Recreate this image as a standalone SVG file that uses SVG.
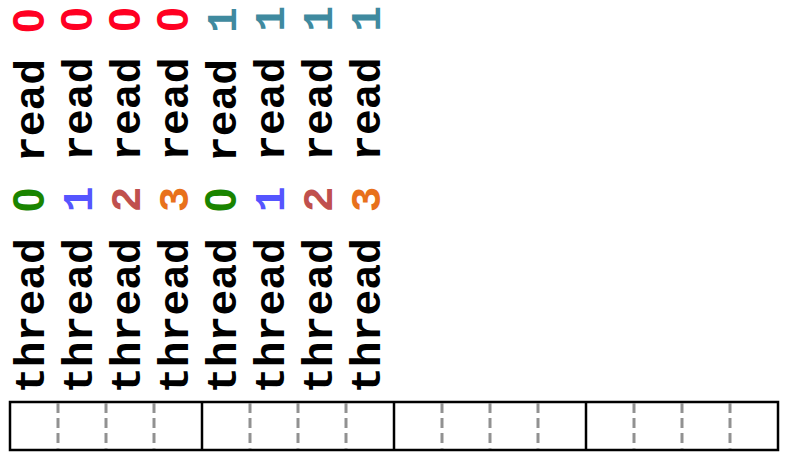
<svg xmlns="http://www.w3.org/2000/svg" width="787" height="459" viewBox="0 0 787 459">
<style>
.t{font-family:"Liberation Mono","Courier New",monospace;font-weight:bold;font-size:43px;fill:#000}
.z{font-family:"Liberation Sans",Arial,sans-serif;font-size:44px}
.r0{fill:#ff0022}.r1{fill:#3f8a9f}
.c0{fill:#1a8400}.c1{fill:#5555ff}.c2{fill:#c0504d}.c3{fill:#e8711c}
.box{fill:#fff;stroke:#000;stroke-width:2.5}
.dash{stroke:#919191;stroke-width:3;stroke-dasharray:10 5}
</style>
<rect width="787" height="459" fill="#fff"/>
<g id="labels">
<g id="col0"><text class="t" transform="translate(44,393) rotate(-90)">thread <tspan class="c0 z">0</tspan> read <tspan class="r0 z">0</tspan></text></g>
<g id="col1"><text class="t" transform="translate(92,393) rotate(-90)">thread <tspan class="c1">1</tspan> read <tspan class="r0 z">0</tspan></text></g>
<g id="col2"><text class="t" transform="translate(140,393) rotate(-90)">thread <tspan class="c2">2</tspan> read <tspan class="r0 z">0</tspan></text></g>
<g id="col3"><text class="t" transform="translate(188,393) rotate(-90)">thread <tspan class="c3">3</tspan> read <tspan class="r0 z">0</tspan></text></g>
<g id="col4"><text class="t" transform="translate(236,393) rotate(-90)">thread <tspan class="c0 z">0</tspan> read <tspan class="r1">1</tspan></text></g>
<g id="col5"><text class="t" transform="translate(284,393) rotate(-90)">thread <tspan class="c1">1</tspan> read <tspan class="r1">1</tspan></text></g>
<g id="col6"><text class="t" transform="translate(332,393) rotate(-90)">thread <tspan class="c2">2</tspan> read <tspan class="r1">1</tspan></text></g>
<g id="col7"><text class="t" transform="translate(380,393) rotate(-90)">thread <tspan class="c3">3</tspan> read <tspan class="r1">1</tspan></text></g>
</g>
<g id="memory">
<rect class="box" x="10" y="402" width="768" height="48"/>
<g class="dash">
<line x1="58" y1="403" x2="58" y2="449"/><line x1="106" y1="403" x2="106" y2="449"/><line x1="154" y1="403" x2="154" y2="449"/>
<line x1="250" y1="403" x2="250" y2="449"/><line x1="298" y1="403" x2="298" y2="449"/><line x1="346" y1="403" x2="346" y2="449"/>
<line x1="442" y1="403" x2="442" y2="449"/><line x1="490" y1="403" x2="490" y2="449"/><line x1="538" y1="403" x2="538" y2="449"/>
<line x1="634" y1="403" x2="634" y2="449"/><line x1="682" y1="403" x2="682" y2="449"/><line x1="730" y1="403" x2="730" y2="449"/>
</g>
<g stroke="#000" stroke-width="2.5">
<line x1="202" y1="402" x2="202" y2="450"/><line x1="394" y1="402" x2="394" y2="450"/><line x1="586" y1="402" x2="586" y2="450"/>
</g>
</g>
</svg>
